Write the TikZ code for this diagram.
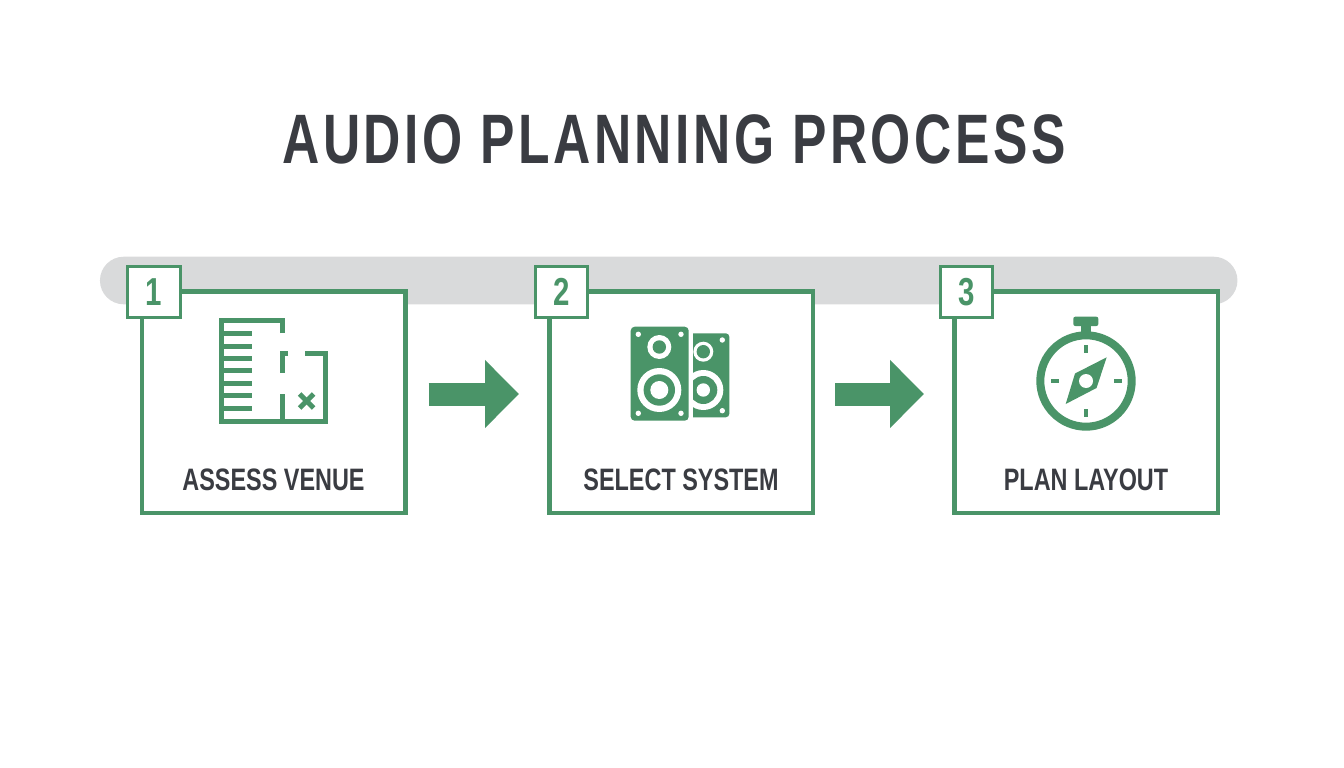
\documentclass[tikz,border=0pt]{standalone}
\usepackage{fontspec}
\setmainfont{Liberation Sans}[FakeStretch=0.755]
\newfontfamily\titlefont{Liberation Sans}[FakeStretch=0.737,LetterSpace=5]
\usepackage{xcolor}
\usetikzlibrary{arrows.meta, positioning, calc}
\definecolor{leaf}{HTML}{4A9468}
\definecolor{ink}{HTML}{3A3C42}
\definecolor{track}{HTML}{D9DADB}

\begin{document}
\begin{tikzpicture}[x=1pt, y=-1pt, node distance=407.5pt]
    % Styles
    \tikzstyle{stage} = [rectangle, draw=leaf, fill=white, line width=4.5pt, minimum width=263.5pt, minimum height=221.5pt]
    \tikzstyle{badge} = [rectangle, draw=leaf, fill=white, line width=3pt, minimum width=52.5pt, minimum height=51pt, text=leaf, font=\fontsize{39}{42}\selectfont\bfseries, inner sep=0pt]
    \tikzstyle{caption} = [text=ink, font=\fontsize{31}{34}\selectfont\bfseries, inner sep=0pt]
    \tikzstyle{line} = [draw=leaf, line width=23pt, -{Triangle[length=34pt, width=66pt]}]
    \tikzstyle{plan} = [draw=leaf, line width=5pt]
    \tikzstyle{tick} = [fill=leaf, draw=none]

    \useasboundingbox (0,0) rectangle (1344,768);

    % Nodes
    \node [text=ink, font=\titlefont\fontsize{70}{76}\selectfont\bfseries, inner sep=0pt] (title) at (674,139.5) {AUDIO PLANNING PROCESS};
    \node [rectangle, fill=track, rounded corners=23.8pt, minimum width=1137.5pt, minimum height=47.6pt] (bar) at (668.7,280.5) {};
    \node [stage] (assess) at (273.5,402) {};
    \node [stage, right of=assess] (select) {};
    \node [stage, right of=select, node distance=405pt] (layout) {};

    \node [badge] (one) at ([xshift=14.3pt, yshift=-3.3pt]assess.north west) {1};
    \node [badge] (two) at ([xshift=14.3pt, yshift=-3.3pt]select.north west) {2};
    \node [badge] (three) at ([xshift=14.3pt, yshift=-3.3pt]layout.north west) {3};

    \node [caption] (venue) at ([yshift=35pt]assess.south) {ASSESS VENUE};
    \node [caption] (system) at ([yshift=35pt]select.south) {SELECT SYSTEM};
    \node [caption] (plan) at ([yshift=35pt]layout.south) {PLAN LAYOUT};

    % Paths
    \path [line, shorten <=21pt, shorten >=28pt] ([yshift=8pt]assess.east) -- ([yshift=8pt]select.west);
    \path [line, shorten <=20pt, shorten >=28pt] ([yshift=8pt]select.east) -- ([yshift=8pt]layout.west);

    % Floor plan
    \draw [plan] (282,333) -- (282,320.7) -- (221,320.7) -- (221,421.7) -- (325.7,421.7) -- (325.7,353) -- (305,353);
    \draw [plan] (288,353) -- (282,353) -- (282,372.7);
    \draw [plan] (282,394) -- (282,421.7);
    \foreach \y in {333.3,346,358.3,370.7,383.3,395.7,408}
        \draw [plan] (221,\y) -- (252,\y);
    \draw [plan] (299.7,394) -- (313.7,408);
    \draw [plan] (299.7,408) -- (313.7,394);

    % Speakers
    \fill [leaf, rounded corners=3.5pt] (688,333.3) rectangle (729.3,417.3);
    \fill [white] (703.3,351.7) circle (10);
    \fill [leaf] (703.3,351.7) circle (6.7);
    \fill [white] (703.3,390) circle (20);
    \fill [leaf] (703.3,390) circle (14);
    \fill [white] (703.3,390) circle (6.7);
    \foreach \y in {340,410.7}
        \fill [white] (722.3,\y) circle (2.7);
    \fill [white] (686,325) rectangle (692.7,423);
    \fill [leaf, rounded corners=4pt] (630.7,326.7) rectangle (688.7,420.7);
    \fill [white] (659.3,347) circle (12);
    \fill [leaf] (659.3,347) circle (6.7);
    \fill [white] (659.3,390) circle (22);
    \fill [leaf] (659.3,390) circle (15.7);
    \fill [white] (659.3,390) circle (9);
    \foreach \x in {638.3,681}
        \foreach \y in {334.3,413.3}
            \fill [white] (\x,\y) circle (2.7);

    % Compass
    \draw [leaf, line width=8pt] (1086,381) circle (45.7);
    \fill [leaf] (1080.7,324) rectangle (1091.3,334);
    \fill [leaf, rounded corners=2pt] (1073.3,316.7) rectangle (1098.3,326);
    \fill [tick] (1083.8,345) rectangle (1088.2,353);
    \fill [tick] (1083.8,409) rectangle (1088.2,417);
    \fill [tick] (1050.5,378.8) rectangle (1058.5,383.2);
    \fill [tick] (1113.5,378.8) rectangle (1121.5,383.2);
    \fill [leaf] (1106.7,357.3) -- (1096.5,388) -- (1065.7,404) -- (1075,373.5) -- cycle;
    \fill [white] (1086,381) circle (7);

\end{tikzpicture}
\end{document}
